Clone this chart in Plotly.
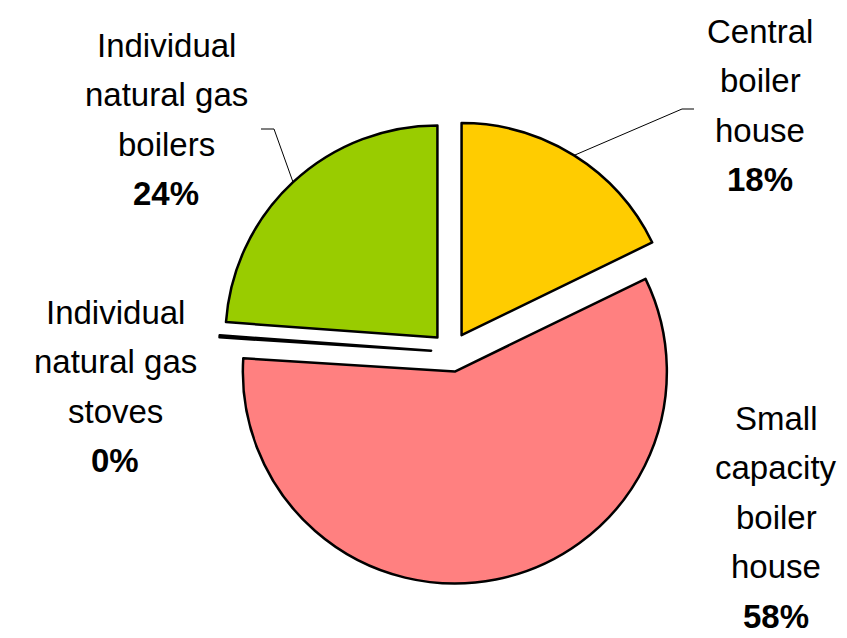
"""Heat supply structure pie chart"""
import math
import plotly.graph_objects as go

LABELS = [
    "Central boiler house",
    "Small capacity boiler house",
    "Individual natural gas stoves",
    "Individual natural gas boilers",
]
VALUES = [17.8, 58.2, 0.15, 23.85]
PERCENTS = ["18%", "58%", "0%", "24%"]
LABEL_LINES = [
    ["Central", "boiler", "house"],
    ["Small", "capacity", "boiler", "house"],
    ["Individual", "natural gas", "stoves"],
    ["Individual", "natural gas", "boilers"],
]
COLORS = ["#FFCC00", "#FF8080", "#FFFFFF", "#99CC00"]

W, H = 847, 638
CX, CY, R = 443, 344, 212
PULL = 0.094
FONT = "Liberation Sans, Arial, sans-serif"

# label block positions (pixel centre x, first line y), line step in px
LABEL_POS = [(752, 23), (768, 410), (107, 304), (158, 37)]
STEP = 49.6


def px(x, y):
    return x / W, 1 - y / H


fig = go.Figure(
    go.Pie(
        labels=LABELS,
        values=VALUES,
        sort=False,
        direction="clockwise",
        rotation=0,
        pull=PULL,
        textinfo="none",
        hoverinfo="label+percent",
        marker=dict(colors=COLORS, line=dict(color="black", width=2.5)),
        domain=dict(
            x=[(CX - R * (1 + PULL)) / W, (CX + R * (1 + PULL)) / W],
            y=[(H - CY - R * (1 + PULL)) / H, (H - CY + R * (1 + PULL)) / H],
        ),
        showlegend=False,
    )
)

annotations = []
for lines, pct, (lx, ly) in zip(LABEL_LINES, PERCENTS, LABEL_POS):
    for i, text in enumerate(lines + ["<b>%s</b>" % pct]):
        x, y = px(lx, ly + i * STEP)
        annotations.append(
            dict(
                x=x, y=y, xref="paper", yref="paper", text=text,
                showarrow=False, xanchor="center", yanchor="middle",
                font=dict(family=FONT, size=33, color="black"),
            )
        )

# leader lines to the mid angle of the two top slices
total = sum(VALUES)
shapes = []
elbows = {0: (686, 674, 101), 3: (253, 266, 121)}
cum = 0
for i, v in enumerate(VALUES):
    mid = (cum + v / 2) / total * 2 * math.pi
    cum += v
    if i not in elbows:
        continue
    x0, x1, ey = elbows[i]
    dist = R * (1 + PULL)
    ex, ey2 = CX + dist * math.sin(mid), CY - dist * math.cos(mid)
    a, b = px(x0, ey)
    c, d = px(x1, ey)
    e, f = px(ex, ey2)
    line = dict(color="black", width=1)
    shapes.append(dict(type="line", xref="paper", yref="paper", x0=a, y0=b, x1=c, y1=d, line=line))
    shapes.append(dict(type="line", xref="paper", yref="paper", x0=c, y0=d, x1=e, y1=f, line=line))

fig.update_layout(
    width=W,
    height=H,
    margin=dict(l=0, r=0, t=0, b=0),
    paper_bgcolor="white",
    plot_bgcolor="white",
    annotations=annotations,
    shapes=shapes,
)

fig.write_html("out.html")
